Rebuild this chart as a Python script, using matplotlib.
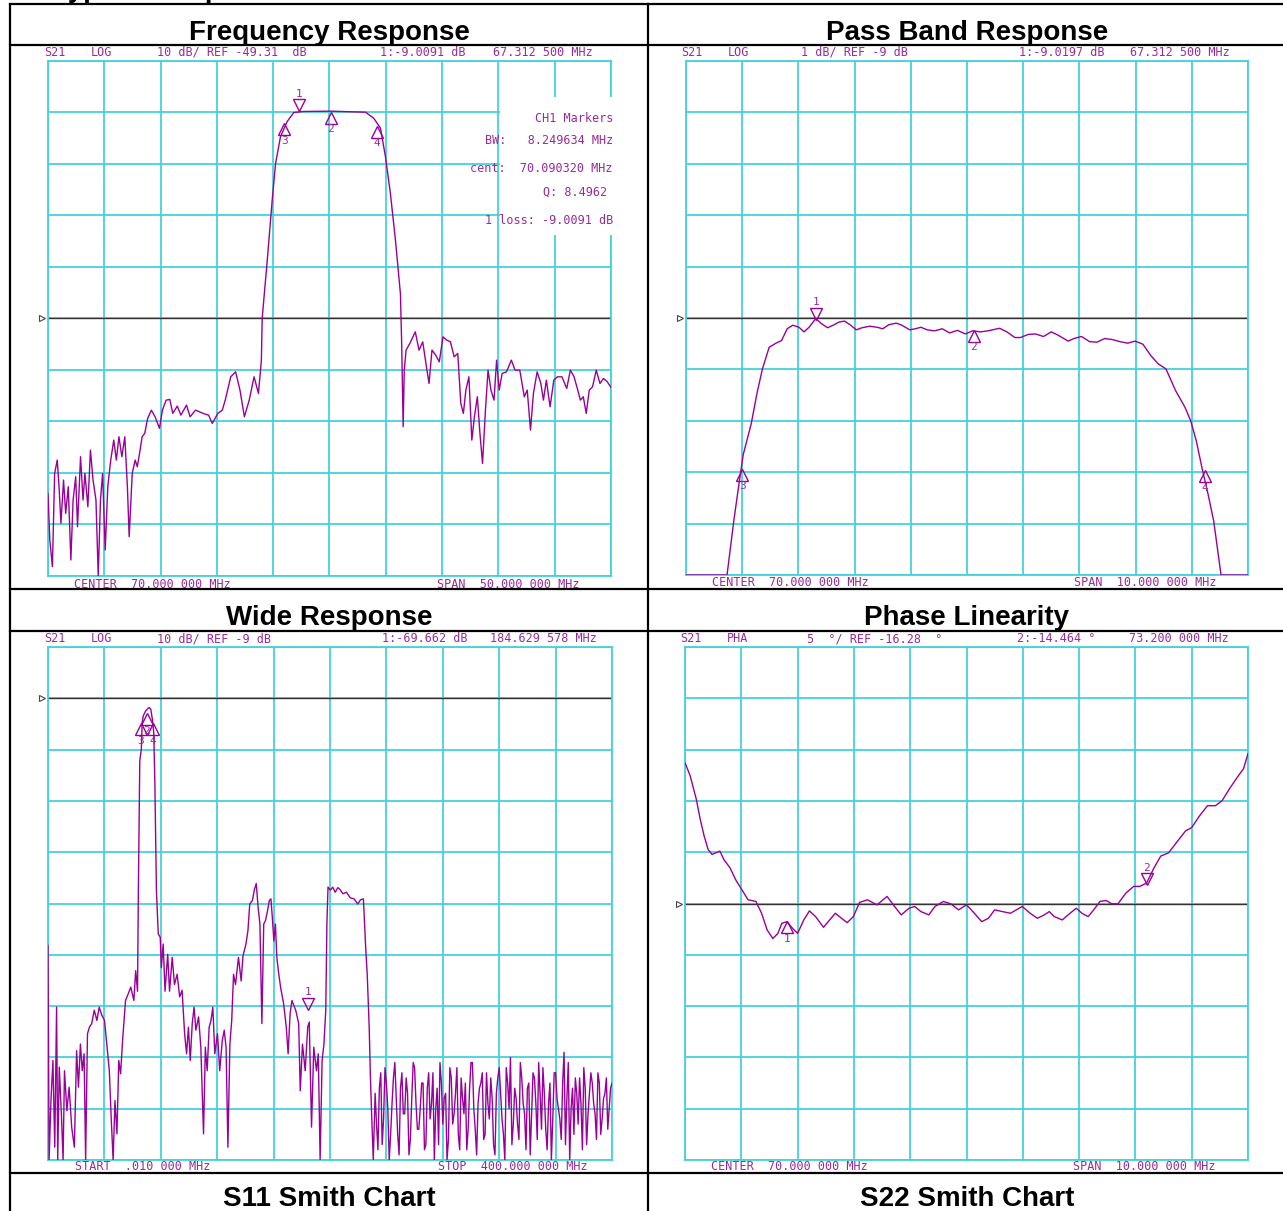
import numpy as np
import matplotlib
matplotlib.use("Agg")
import matplotlib.pyplot as plt
import matplotlib.transforms as mtransforms
from matplotlib.lines import Line2D
from matplotlib.patches import Rectangle

# ---- Frequency Response (S21, 10 dB/div, ref -49.31 dB, 45..95 MHz)
fr_lo_freq = [45.00, 45.16, 45.39, 45.59, 45.82, 45.98, 46.15, 46.38, 46.57, 46.80,
              47.03, 47.23, 47.46, 47.62, 47.89, 48.11, 48.28, 48.54, 48.77, 49.00,
              49.26, 49.46, 49.66, 49.85, 50.08, 50.31, 50.57, 50.84, 51.07, 51.30,
              51.56, 51.82, 52.05, 52.21, 52.48, 52.74, 52.93, 53.13, 53.36, 53.59,
              53.85, 54.18, 54.51, 54.90, 55.16, 55.49, 55.82, 56.08, 56.48, 56.80,
              57.30, 57.62, 58.11, 58.77, 59.26, 59.59, 60.08, 60.48, 60.74, 61.23,
              61.66, 62.05, 62.44, 62.87, 63.30, 63.69, 63.95]
fr_lo_db = [-83.27, -92.32, -97.50, -79.39, -76.80, -81.97, -89.09, -80.68, -87.15, -81.97,
            -96.20, -84.56, -80.03, -89.74, -76.15, -84.56, -79.39, -85.85, -74.86, -80.68,
            -84.56, -99.30, -84.56, -79.39, -94.26, -81.97, -76.80, -72.92, -76.80, -72.27,
            -76.15, -72.27, -81.97, -91.68, -79.39, -76.80, -78.09, -75.51, -72.27, -71.62,
            -68.71, -67.10, -68.39, -70.65, -67.10, -65.16, -65.03, -67.74, -66.32, -68.07,
            -66.13, -68.39, -67.10, -67.74, -68.07, -69.68, -67.74, -67.10, -65.16, -60.63,
            -59.66, -63.22, -68.39, -65.16, -60.63, -63.86, -57.40]
fr_band_freq = [64.02, 64.47, 64.91, 65.21, 65.65, 66.24, 66.83, 67.72, 70.09, 73.20,
                73.93, 74.53, 74.97, 75.41, 75.86, 76.30]
fr_band_db = [-49.31, -38.06, -26.35, -19.20, -13.99, -11.07, -9.31, -9.11, -9.05, -9.25,
              -10.42, -12.37, -17.90, -25.05, -34.15, -44.56]
fr_hi_freq = [76.41, 76.54, 76.64, 76.80, 77.13, 77.62, 77.95, 78.28, 78.61, 78.84,
              79.10, 79.43, 79.75, 80.08, 80.41, 80.74, 81.07, 81.39, 81.66, 81.89,
              82.11, 82.38, 82.64, 82.87, 83.13, 83.36, 83.59, 83.85, 84.08, 84.34,
              84.61, 84.84, 85.07, 85.33, 85.72, 86.15, 86.48, 86.90, 87.30, 87.56,
              87.85, 88.11, 88.44, 88.77, 89.00, 89.26, 89.59, 89.92, 90.25, 90.64,
              91.07, 91.39, 91.72, 92.05, 92.28, 92.54, 92.80, 93.07, 93.36, 93.69,
              94.02, 94.34, 94.67, 95.00]
fr_hi_db = [-54.16, -70.33, -59.34, -55.45, -54.16, -51.90, -55.45, -53.84, -58.69, -61.92,
            -55.45, -56.42, -57.72, -52.87, -53.51, -53.84, -56.75, -56.10, -65.80, -67.74,
            -63.22, -60.63, -72.92, -68.39, -64.51, -71.62, -77.45, -67.10, -59.34, -63.22,
            -65.16, -57.40, -63.22, -59.98, -59.66, -57.40, -59.34, -59.34, -64.51, -63.22,
            -70.98, -63.86, -59.66, -61.92, -65.16, -61.28, -66.45, -61.28, -60.63, -60.63,
            -62.89, -59.34, -60.63, -63.22, -65.16, -64.51, -67.74, -63.22, -62.57, -59.34,
            -61.92, -60.95, -61.60, -62.70]

# ---- Pass Band Response (1 dB/div, ref -9 dB, 65..75 MHz)
pb_freq = [65.00, 65.73, 65.85, 65.95, 66.02, 66.16, 66.26, 66.36, 66.48, 66.60,
           66.70, 66.80, 66.90, 67.01, 67.10, 67.19, 67.31, 67.41, 67.52, 67.62,
           67.72, 67.82, 67.93, 68.03, 68.13, 68.27, 68.40, 68.50, 68.61, 68.74,
           68.84, 68.98, 69.08, 69.18, 69.29, 69.42, 69.56, 69.69, 69.83, 69.97,
           70.10, 70.24, 70.37, 70.58, 70.71, 70.85, 70.95, 71.09, 71.22, 71.36,
           71.50, 71.63, 71.80, 71.90, 72.04, 72.18, 72.31, 72.45, 72.59, 72.72,
           72.86, 72.99, 73.13, 73.27, 73.40, 73.54, 73.71, 73.88, 73.98, 74.08,
           74.18, 74.29, 74.39, 74.52, 75.00]
pb_db = [-14.00, -14.00, -12.95, -12.17, -11.65, -11.06, -10.48, -9.99, -9.57, -9.49,
         -9.44, -9.21, -9.14, -9.18, -9.27, -9.18, -9.01, -9.11, -9.19, -9.14,
         -9.08, -9.06, -9.14, -9.23, -9.19, -9.16, -9.18, -9.21, -9.13, -9.10,
         -9.14, -9.23, -9.21, -9.18, -9.23, -9.25, -9.21, -9.29, -9.24, -9.31,
         -9.25, -9.27, -9.25, -9.20, -9.27, -9.38, -9.38, -9.32, -9.31, -9.36,
         -9.27, -9.34, -9.45, -9.40, -9.36, -9.46, -9.47, -9.40, -9.42, -9.46,
         -9.49, -9.45, -9.51, -9.73, -9.89, -9.99, -10.41, -10.74, -11.00, -11.39,
         -11.91, -12.43, -12.95, -14.00, -14.00]

# ---- Wide Response (10 dB/div, ref -9 dB, 0.01..400 MHz)
wr_freq = [0.01, 0.8, 2.1, 3.5, 4.8, 6.1, 6.9, 8.0, 9.6, 10.7,
           11.7, 13.4, 15.0, 16.8, 18.7, 20.3, 21.6, 23.0, 24.3, 25.6,
           26.7, 28.0, 29.4, 31.0, 32.8, 34.7, 36.3, 38.2, 40.1, 41.7,
           43.5, 44.9, 46.2, 47.5, 48.9, 50.2, 51.5, 52.9, 55.0, 56.9,
           58.7, 60.9, 62.2, 63.5, 64.1, 65.1, 66.2, 66.8, 67.6, 69.4,
           71.6, 72.9, 74.2, 75.0, 75.8, 76.9, 78.2, 79.6, 80.4, 81.7,
           83.0, 84.9, 86.2, 88.1, 89.7, 91.6, 93.4, 95.1, 96.9, 98.3,
           99.6, 100.9, 102.3, 103.6, 104.9, 106.8, 108.4, 110.3, 111.6, 112.9,
           114.3, 115.6, 116.9, 118.3, 120.2, 121.8, 123.6, 125.0, 126.3, 127.6,
           129.0, 130.3, 131.6, 133.0, 135.1, 137.0, 138.3, 140.4, 141.8, 143.1,
           145.0, 146.3, 147.7, 149.0, 150.3, 151.7, 153.0, 154.3, 155.7, 157.0,
           158.1, 159.1, 160.2, 161.3, 162.3, 163.7, 165.0, 167.1, 169.0, 170.3,
           171.7, 173.0, 175.7, 177.8, 178.9, 180.5, 182.4, 184.2, 185.3, 186.9,
           188.5, 190.4, 191.7, 193.0, 194.4, 195.7, 197.0, 197.8, 198.6, 200.3,
           201.9, 203.7, 205.6, 207.2, 209.1, 211.7, 214.4, 217.1, 219.7, 221.6,
           223.7, 224.5, 225.3, 226.4, 227.8, 228.6, 229.6, 230.7]
wr_db = [-57.2, -99.0, -87.4, -79.6, -96.5, -69.2, -99.0, -80.9, -90.7, -99.0,
         -81.6, -89.4, -84.8, -92.6, -96.5, -77.7, -84.8, -76.4, -81.6, -78.3,
         -99.0, -74.4, -73.1, -72.4, -69.8, -71.8, -69.2, -70.8, -71.8, -76.4,
         -81.6, -91.3, -99.0, -87.4, -93.9, -79.6, -82.2, -75.7, -67.9, -66.6,
         -65.3, -67.9, -62.1, -66.1, -46.4, -21.2, -18.9, -13.7, -12.4, -11.4,
         -10.8, -11.1, -13.4, -15.7, -25.5, -46.4, -54.9, -55.6, -61.5, -56.9,
         -66.1, -58.9, -66.1, -59.5, -64.8, -62.8, -67.2, -65.9, -74.4, -78.3,
         -73.1, -79.6, -72.4, -69.2, -73.7, -71.1, -77.0, -93.9, -77.0, -81.6,
         -73.1, -71.8, -69.2, -78.3, -74.4, -81.6, -75.7, -73.7, -77.0, -96.5,
         -76.4, -71.8, -62.8, -64.8, -59.5, -64.1, -59.2, -56.9, -54.3, -49.1,
         -48.4, -46.4, -45.1, -49.7, -53.0, -72.4, -53.0, -52.3, -50.4, -48.4,
         -48.1, -51.7, -56.3, -53.0, -59.5, -62.8, -65.4, -68.5, -73.1, -78.3,
         -70.5, -67.9, -69.8, -72.4, -85.5, -76.4, -81.6, -73.1, -72.1, -92.6,
         -77.0, -81.6, -78.3, -99.0, -79.6, -76.4, -69.8, -53.0, -45.8, -46.4,
         -45.8, -46.8, -45.9, -46.3, -47.1, -46.8, -47.9, -48.1, -49.1, -48.3,
         -48.1, -53.0, -57.6, -62.8, -73.1, -82.2, -90.7, -99.0]
# noise floor above 231 MHz, sampled every 1 MHz (even and odd sweep points)
wr_floor_even_freq = list(range(232, 401, 2))
wr_floor_even_db = [-86, -97, -82, -91, -84, -99, -88, -80, -94, -85,
                    -90, -83, -98, -87, -81, -93, -89, -84, -96, -82,
                    -88, -99, -85, -80, -92, -86, -95, -83, -90, -81,
                    -97, -87, -84, -93, -80, -89, -98, -85, -82, -94,
                    -88, -83, -96, -86, -81, -91, -99, -84, -79, -92,
                    -87, -95, -83, -90, -85, -98, -82, -88, -80, -93,
                    -86, -97, -84, -91, -82, -89, -95, -78, -87, -99,
                    -85, -83, -92, -88, -81, -96, -86, -84, -90, -82,
                    -94, -87, -83, -89, -84]
wr_floor_odd_freq = list(range(233, 400, 2))
wr_floor_odd_db = [-92, -85, -96, -81, -89, -94, -83, -87, -98, -82,
                   -90, -86, -95, -80, -88, -93, -84, -97, -85, -91,
                   -82, -89, -96, -84, -87, -99, -81, -92, -86, -94,
                   -83, -90, -97, -85, -80, -93, -88, -84, -95, -82,
                   -91, -87, -98, -83, -86, -94, -81, -89, -96, -85,
                   -92, -80, -88, -97, -84, -90, -83, -95, -86, -81,
                   -93, -88, -99, -82, -87, -91, -84, -96, -80, -89,
                   -94, -86, -83, -97, -85, -90, -82, -88, -95, -84,
                   -91, -86, -93, -85]

# ---- Phase Linearity (5 deg/div, ref -16.28 deg, 65..75 MHz)
pl_freq = [65.00, 65.09, 65.20, 65.27, 65.34, 65.41, 65.48, 65.55, 65.62, 65.69,
           65.80, 65.90, 66.01, 66.12, 66.26, 66.36, 66.46, 66.56, 66.65, 66.72,
           66.81, 66.91, 67.00, 67.11, 67.21, 67.32, 67.46, 67.57, 67.67, 67.78,
           67.88, 67.99, 68.10, 68.24, 68.41, 68.59, 68.70, 68.84, 68.98, 69.08,
           69.19, 69.33, 69.44, 69.59, 69.72, 69.86, 70.00, 70.14, 70.27, 70.39,
           70.50, 70.64, 70.78, 70.99, 71.13, 71.26, 71.38, 71.47, 71.56, 71.70,
           71.84, 71.95, 72.05, 72.16, 72.26, 72.37, 72.48, 72.58, 72.69, 72.83,
           72.97, 73.08, 73.20, 73.33, 73.45, 73.59, 73.75, 73.89, 74.00, 74.14,
           74.28, 74.42, 74.54, 74.67, 74.81, 74.92, 75.00]
pl_deg = [-2.56, -3.80, -6.10, -8.06, -9.70, -11.01, -11.50, -11.34, -11.17, -11.99,
          -12.81, -13.96, -14.94, -15.92, -16.08, -17.23, -18.87, -19.69, -19.19, -18.21,
          -18.05, -18.70, -19.19, -17.88, -17.00, -17.56, -18.60, -17.88, -17.23, -17.72,
          -18.15, -17.56, -16.18, -15.92, -16.41, -15.59, -16.41, -17.39, -16.74, -16.57,
          -17.07, -17.39, -16.57, -16.08, -16.31, -16.90, -16.41, -17.23, -18.05, -17.72,
          -16.90, -17.07, -17.23, -16.57, -17.23, -17.72, -17.39, -17.07, -17.56, -17.88,
          -17.23, -16.74, -17.23, -17.56, -16.90, -16.08, -15.99, -16.31, -16.31, -15.27,
          -14.61, -14.61, -14.28, -12.81, -11.66, -11.34, -10.19, -9.21, -8.88, -7.73,
          -6.75, -6.75, -6.26, -5.11, -3.97, -3.15, -1.68]

W, H = 1283, 1211
PURPLE = '#990099'
TXT = '#9a2a9a'
CYAN = '#44d2da'
MONO = 'DejaVu Sans Mono'
SANS = 'Liberation Sans'

fig = plt.figure(figsize=(W / 100, H / 100), dpi=100)
fig.patch.set_facecolor('white')


def box(x0, y0, x1, y1):
    return fig.add_axes([x0 / W, 1 - y1 / H, (x1 - x0) / W, (y1 - y0) / H])


def txt(x, y, s, ha='left', size=8.5, **kw):
    fig.text(x / W, 1 - y / H, s, ha=ha, va='center', fontsize=size,
             family=MONO, color=TXT, **kw)


def setup(ax, xlim, ylim, ref):
    ax.set_xlim(xlim)
    ax.set_ylim(ylim)
    ax.set_xticks(np.linspace(xlim[0], xlim[1], 11))
    ax.set_yticks(np.linspace(ylim[0], ylim[1], 11))
    ax.tick_params(length=0, labelbottom=False, labelleft=False)
    ax.set_axisbelow(True)
    ax.grid(True, color=CYAN, lw=1.3)
    for s in ax.spines.values():
        s.set_color(CYAN)
        s.set_linewidth(1.3)
    ax.axhline(ref, color='#333333', lw=1.0, zorder=2)
    tr = mtransforms.blended_transform_factory(ax.transAxes, ax.transData)
    ax.plot([-0.011], [ref], marker='>', ms=4.5, mfc='white', mec='#444444',
            mew=0.8, transform=tr, clip_on=False)


def tri(ax, x, y, num, down):
    dy = 5.5 if down else -5.5
    t = mtransforms.offset_copy(ax.transData, fig=fig, x=0, y=dy, units='dots')
    ax.plot([x], [y], marker='v' if down else '^', ms=8, mfc='none', mec=PURPLE,
            mew=1.0, transform=t, clip_on=False, zorder=5)
    t2 = mtransforms.offset_copy(ax.transData, fig=fig, x=0, y=(17 if down else -17), units='dots')
    ax.text(x, y, num, transform=t2, ha='center', va='center', fontsize=8,
            family=MONO, color=TXT, zorder=5)


# ---------------- Frequency Response
ax1 = box(48, 61, 611, 576)
setup(ax1, (45, 95), (-99.31, 0.69), -49.31)
ax1.plot(fr_lo_freq + fr_band_freq + fr_hi_freq, fr_lo_db + fr_band_db + fr_hi_db,
         color=PURPLE, lw=1.0, zorder=3)
tri(ax1, 67.31, -9.01, '1', True)
tri(ax1, 70.09, -9.3, '2', False)
tri(ax1, 65.97, -11.5, '3', False)
tri(ax1, 74.22, -12.0, '4', False)
ax1.add_patch(Rectangle((0.803, 0.662), 0.21, 0.268, transform=ax1.transAxes,
                        fc='white', ec='none', zorder=3, clip_on=False))
txt(613, 118, 'CH1 Markers', ha='right')
txt(613, 140, 'BW:   8.249634 MHz', ha='right')
txt(613, 169, 'cent:  70.090320 MHz', ha='right')
txt(607, 192, 'Q: 8.4962', ha='right')
txt(613, 221, '1 loss: -9.0091 dB', ha='right')
txt(44, 52, 'S21')
txt(91, 52, 'LOG')
txt(157, 52, '10 dB/ REF -49.31  dB')
txt(380, 52, '1:-9.0091 dB')
txt(493, 52, '67.312 500 MHz')
txt(74, 585, 'CENTER  70.000 000 MHz')
txt(437, 585, 'SPAN  50.000 000 MHz')

# ---------------- Pass Band Response
ax2 = box(686, 61, 1248, 575)
setup(ax2, (65, 75), (-14, -4), -9)
ax2.plot(pb_freq, pb_db, color=PURPLE, lw=1.0, zorder=3)
tri(ax2, 67.31, -9.02, '1', True)
tri(ax2, 70.12, -9.24, '2', False)
tri(ax2, 66.0, -11.94, '3', False)
tri(ax2, 74.24, -11.97, '4', False)
txt(681, 52, 'S21')
txt(728, 52, 'LOG')
txt(801, 52, '1 dB/ REF -9 dB')
txt(1019, 52, '1:-9.0197 dB')
txt(1130, 52, '67.312 500 MHz')
txt(712, 582, 'CENTER  70.000 000 MHz')
txt(1074, 582, 'SPAN  10.000 000 MHz')

# ---------------- Wide Response
floor = sorted(zip(wr_floor_even_freq + wr_floor_odd_freq, wr_floor_even_db + wr_floor_odd_db))
ax3 = box(48, 647, 612, 1160)
setup(ax3, (0.01, 400), (-99, 1), -9)
ax3.plot(wr_freq + [f for f, _ in floor], wr_db + [d for _, d in floor],
         color=PURPLE, lw=1.0, zorder=3)
tri(ax3, 65.97, -14.0, '3', False)
tri(ax3, 70.09, -12.0, '2', False)
tri(ax3, 74.22, -14.0, '4', False)
tri(ax3, 184.63, -69.66, '1', True)
txt(44, 639, 'S21')
txt(91, 639, 'LOG')
txt(157, 639, '10 dB/ REF -9 dB')
txt(382, 639, '1:-69.662 dB')
txt(490, 639, '184.629 578 MHz')
txt(75, 1167, 'START  .010 000 MHz')
txt(438, 1167, 'STOP  400.000 000 MHz')

# ---------------- Phase Linearity
ax4 = box(685, 647, 1248, 1160)
setup(ax4, (65, 75), (-41.28, 8.72), -16.28)
ax4.plot(pl_freq, pl_deg, color=PURPLE, lw=1.0, zorder=3)
tri(ax4, 66.81, -18.05, '1', False)
tri(ax4, 73.2, -14.46, '2', True)
txt(680, 639, 'S21')
txt(727, 639, 'PHA')
txt(807, 639, '5  \u00b0/ REF -16.28  \u00b0')
txt(1017, 639, '2:-14.464 \u00b0')
txt(1129, 639, '73.200 000 MHz')
txt(711, 1167, 'CENTER  70.000 000 MHz')
txt(1073, 1167, 'SPAN  10.000 000 MHz')

# ---------------- table frame and titles
def hline(y, x0=10, x1=W):
    fig.add_artist(Line2D([x0 / W, x1 / W], [1 - y / H] * 2, color='black', lw=1.6,
                          transform=fig.transFigure, zorder=10))


def vline(x, y0=4, y1=H):
    fig.add_artist(Line2D([x / W] * 2, [1 - y0 / H, 1 - y1 / H], color='black', lw=1.6,
                          transform=fig.transFigure, zorder=10))


for y in (4, 45, 589, 631, 1173):
    hline(y)
vline(10)
vline(648)

fig.text(53 / W, 1 + 3 / H, 'Typical Response', ha='left', va='baseline',
         fontsize=20, weight='bold', family=SANS)
titles = [(329, 40, 'Frequency Response'), (967, 40, 'Pass Band Response'),
          (329, 625, 'Wide Response'), (967, 625, 'Phase Linearity'),
          (329, 1206, 'S11 Smith Chart'), (967, 1206, 'S22 Smith Chart')]
for x, y, s in titles:
    fig.text(x / W, 1 - y / H, s, ha='center', va='baseline', fontsize=20,
             weight='bold', family=SANS)

fig.savefig('out.png', dpi=100)
